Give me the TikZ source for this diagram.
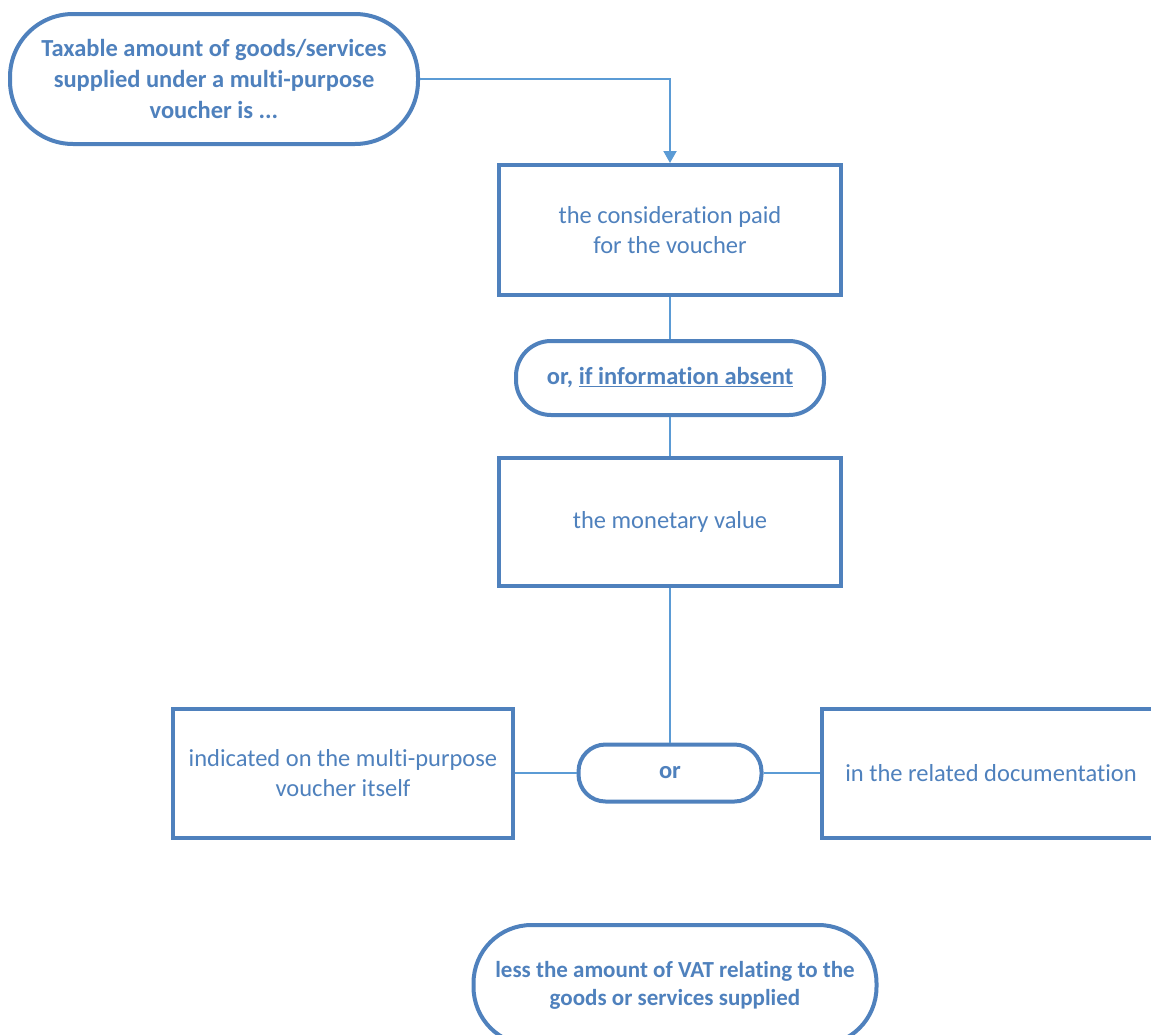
\documentclass[tikz,border=0pt]{standalone}
\usepackage{fontspec}
\setmainfont{Carlito}[Ligatures={NoCommon}]
\usetikzlibrary{arrows.meta}
\definecolor{boxblue}{HTML}{4F81BD}
\definecolor{lineblue}{HTML}{5B9BD5}
\definecolor{txtblue}{HTML}{4F81BD}
\begin{document}
\begin{tikzpicture}[x=1pt,y=-1pt,
  base/.style={draw=boxblue,line width=4pt,fill=white,text=txtblue,align=center,
    font=\fontsize{24.5}{29.5}\selectfont,inner sep=0pt},
  boxnode/.style={base,minimum width=342pt,minimum height=129pt},
  pill/.style={base,font=\fontsize{24.5}{29.5}\selectfont\bfseries},
  conn/.style={draw=lineblue,line width=2pt}]
\useasboundingbox (0,0) rectangle (1151,1034);
\clip (0,0) rectangle (1151,1034);
\node[pill,font=\fontsize{24.5}{31}\selectfont\bfseries,minimum width=408pt,minimum height=130pt,rounded corners=63pt] (start) at (214,79)
  {Taxable amount of goods/services\\supplied under a multi-purpose\\voucher is ...};
\node[boxnode,minimum height=130pt] (b1) at (670,230) {the consideration paid\\for the voucher};
\node[pill,minimum width=308pt,minimum height=74pt,rounded corners=35pt] (s2) at (670,378)
  {or, \underline{if information absent}};
\node[boxnode,minimum height=128pt] (b2) at (670,522) {the monetary value};
\node[pill,minimum width=183pt,minimum height=57pt,rounded corners=27pt] (orn) at (670,773) {or};
\node[boxnode,minimum width=340pt] (left) at (343,773) {indicated on the multi-purpose\\voucher itself};
\node[boxnode,minimum width=338pt] (right) at (991,773) {in the related documentation};
\node[pill,font=\fontsize{23}{28}\selectfont\bfseries,minimum width=403pt,minimum height=120pt,rounded corners=58pt] (bottom) at (675,985)
  {less the amount of VAT relating to the\\goods or services supplied};
\draw[conn,-{Triangle[width=13pt,length=12pt]}] (start.east) -| (b1.north);
\draw[conn] (b1.south) -- (s2.north);
\draw[conn] (s2.south) -- (b2.north);
\draw[conn] (b2.south) -- (orn.north);
\draw[conn] (left.east) -- (orn.west);
\draw[conn] (orn.east) -- (right.west);
\end{tikzpicture}
\end{document}
